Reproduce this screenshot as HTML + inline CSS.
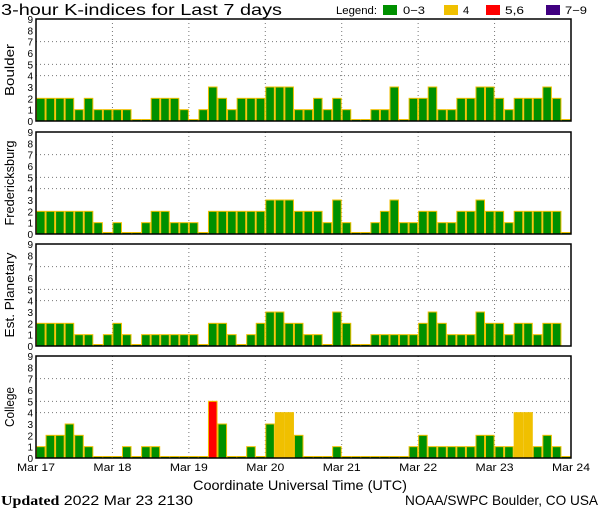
<!DOCTYPE html>
<html><head><meta charset="utf-8"><style>
body{margin:0;background:#fff;}
svg{display:block;font-family:"Liberation Sans",sans-serif;}
</style></head><body>
<svg id="chart" width="600" height="510" viewBox="0 0 600 510" xmlns="http://www.w3.org/2000/svg">
<text x="1" y="15" font-size="16" fill="#000" textLength="281" lengthAdjust="spacingAndGlyphs">3-hour K-indices for Last 7 days</text>
<g font-size="11">
<text x="336" y="14" textLength="41" lengthAdjust="spacingAndGlyphs">Legend:</text>
<rect x="383" y="5" width="14" height="10" fill="#009000"/><text x="403" y="14" textLength="22" lengthAdjust="spacingAndGlyphs">0−3</text>
<rect x="444" y="5" width="14" height="10" fill="#f0c000"/><text x="463" y="14">4</text>
<rect x="486" y="5" width="14" height="10" fill="#ff0000"/><text x="505" y="14" textLength="19" lengthAdjust="spacingAndGlyphs">5,6</text>
<rect x="546" y="5" width="14" height="10" fill="#400080"/><text x="565" y="14" textLength="22" lengthAdjust="spacingAndGlyphs">7−9</text>
</g>
<text x="193" y="490" font-size="14" textLength="214" lengthAdjust="spacingAndGlyphs">Coordinate Universal Time (UTC)</text>
<text x="1" y="505" font-size="14" textLength="192" lengthAdjust="spacingAndGlyphs"><tspan font-weight="bold" font-family="Liberation Serif,serif">Updated</tspan> 2022 Mar 23 2130</text>
<text x="405" y="505" font-size="14" textLength="193" lengthAdjust="spacingAndGlyphs">NOAA/SWPC Boulder, CO USA</text>
</svg>
<script>
const stations = ["Boulder","Fredericksburg","Est. Planetary","College"];
const boulder = [2,2,2,2,1,2,1,1,1,1,0,0,2,2,2,1,0,1,3,2,1,2,2,2,3,3,3,1,1,2,1,2,1,0,0,1,1,3,0,2,2,3,1,1,2,2,3,3,2,1,2,2,2,3,2,0];
const fredericksburg = [2,2,2,2,2,2,1,0,1,0,0,1,2,2,1,1,1,0,2,2,2,2,2,2,3,3,3,2,2,2,1,3,1,0,0,1,2,3,1,1,2,2,1,1,2,2,3,2,2,1,2,2,2,2,2,0];
const planetary = [2,2,2,2,1,1,0,1,2,1,0,1,1,1,1,1,1,0,2,2,1,0,1,2,3,3,2,2,1,1,0,3,2,0,0,1,1,1,1,1,2,3,2,1,1,1,3,2,2,1,2,2,1,2,2,null];
const college = [1,2,2,3,2,1,0,0,0,1,0,1,1,0,0,0,0,0,5,3,0,0,1,0,3,4,4,2,0,0,0,1,0,0,0,0,0,0,0,1,2,1,1,1,1,1,2,2,1,1,4,4,1,2,1,0];
const dayLabels = ["Mar 17","Mar 18","Mar 19","Mar 20","Mar 21","Mar 22","Mar 23","Mar 24"];
const yTicks = [0,1,2,3,4,5,6,7,8,9];
const gridVals = [4,5,7];
const series = [boulder,fredericksburg,planetary,college];
const labelLens = [52,85,85,40];

const svg = document.getElementById('chart');
const NS = "http://www.w3.org/2000/svg";
const X0 = 36, X1 = 571, PH = 102, tops = [19,132,244,356];
const nBars = 56, bw = (X1 - X0) / nBars;
const xDay = d => X0 + d * (X1 - X0) / 7;
const xBar = i => X0 + i * bw;
function mk(tag, attrs, parent){ const e = document.createElementNS(NS, tag); for (const k in attrs) e.setAttribute(k, attrs[k]); (parent||svg).appendChild(e); return e; }
function color(v){ return v <= 3 ? "#009000" : v == 4 ? "#f0c000" : v <= 6 ? "#ff0000" : "#400080"; }

stations.forEach((name, p) => {
  const top = tops[p], bot = top + PH;
  const yv = v => bot - v * PH / 9;
  const g = mk('g', {});
  
  
  gridVals.forEach(v => { const l = mk('line', {x1:X0, x2:X1, y1:yv(v), y2:yv(v), stroke:"#777", "stroke-dasharray":"1 3"}, g);
      });
  for (let d = 1; d < 7; d++) { const l = mk('line', {x1:xDay(d), x2:xDay(d), y1:top, y2:bot, stroke:"#777", "stroke-dasharray":"1 3"}, g);
      }
  series[p].forEach((v, i) => {
    if (v === null) return;
    const h = Math.max(v * PH / 9, 1.5);
    const r = mk('rect', {x:xBar(i)+0.5, y:bot - h, width:bw - 1, height:h, fill:color(v), stroke:"#f0c000", "stroke-width":1}, g);
     
  });
  const fr = mk('rect', {x:X0, y:top, width:X1-X0, height:PH, fill:"none", stroke:"#000", "stroke-width":1.5}, g);
   
  yTicks.forEach(t => { const tx = mk('text', {x:33, y:yv(t)+4, "font-size":10, "text-anchor":"end"}, g); tx.textContent = t;
      });
  const cy = top + PH / 2;
  const yl = mk('text', {x:0, y:0, "font-size":13, "text-anchor":"middle", textLength:labelLens[p], lengthAdjust:"spacingAndGlyphs", transform:"translate(14," + cy + ") rotate(-90)"}, g);
  yl.textContent = name;
   
});
dayLabels.forEach((lab, d) => { const t = mk('text', {x:xDay(d), y:471, "font-size":11, "text-anchor":"middle", textLength:38, lengthAdjust:"spacingAndGlyphs"}); t.textContent = lab;
    });
</script>
</body></html>
